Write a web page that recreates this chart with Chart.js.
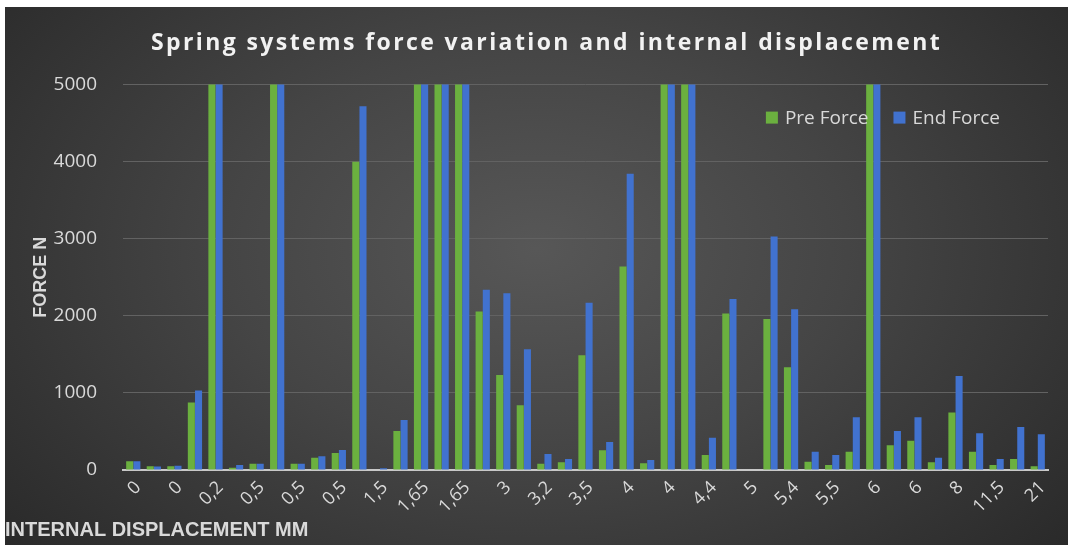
<!DOCTYPE html>
<html><head><meta charset="utf-8">
<script src="https://cdn.jsdelivr.net/npm/chart.js@4.4.1/dist/chart.umd.min.js"></script>
<style>
html,body{margin:0;padding:0;background:#fff;width:1078px;height:545px;overflow:hidden}
#panel{position:absolute;left:5px;top:7px;width:1063px;height:538px;
background:radial-gradient(ellipse 65% 85% at 50% 45%, #575757 0%, #454545 45%, #2a2a2a 100%);}
</style></head><body>
<div id="panel"><canvas id="c"></canvas></div>
<script>
const categories = ["0","0","0","0,1","0,2","0,3","0,5","0,5","0,5","0,5","0,5","1","1,5","1,5","1,65","1,65","1,65","2,5","3","3","3,2","3,5","3,5","3,5","4","4","4","4","4,4","4,5","5","5","5,4","5,5","5,5","6","6","6","6","7","8","10","11,5","15","21"];
const preForce = [115,50,50,875,6500,30,80,5800,80,160,222,4000,5,506,9000,9500,10000,2056,1234,840,82,100,1490,255,2640,87,7000,7500,195,2030,0,1960,1333,108,65,238,15000,320,381,100,745,238,65,143,48];
const endForce = [115,45,55,1030,7800,65,80,6900,80,178,258,4718,22,650,11000,11500,12000,2338,2294,1567,208,143,2170,364,3844,130,8500,9000,420,2218,0,3030,2087,238,195,684,18000,506,684,160,1221,476,143,558,463];
const seriesNames = ["Pre Force","End Force"];
const seriesColors = ['#6bb03f', '#4172cf'];
const yMin = 0, yMax = 5000, yStep = 1000;

const txt = '#d9d9d9';

const titleSpacing = {
  id: 'titleSpacing',
  afterInit(chart) {
    const tb = chart.titleBlock;
    if (tb) {
      const orig = tb.draw.bind(tb);
      tb.draw = function(a){ const ctx = chart.ctx; ctx.save(); ctx.letterSpacing = '2.4px'; ctx.translate(20, 0); orig(a); ctx.restore(); };
    }
  }
};

// legend drawn inside the plot area, top-right, from the dataset labels/colours
const insideLegend = {
  id: 'insideLegend',
  afterDraw(chart) {
    const ctx = chart.ctx, area = chart.chartArea;
    ctx.save();
    ctx.font = '19px "Open Sans"';
    const box = 12, gap = 7, itemGap = 25;
    const items = chart.data.datasets.map(d => ({label: d.label, color: d.backgroundColor, w: ctx.measureText(d.label).width}));
    const total = items.reduce((s, it) => s + box + gap + it.w, 0) + itemGap * (items.length - 1);
    let x = area.right - 48 - total;
    const cy = area.top + 33;
    ctx.textBaseline = 'middle';
    ctx.textAlign = 'left';
    items.forEach(it => {
      ctx.fillStyle = it.color;
      ctx.fillRect(x, cy - box / 2, box, box);
      x += box + gap;
      ctx.fillStyle = txt;
      ctx.fillText(it.label, x, cy + 1);
      x += it.w + itemGap;
    });
    ctx.restore();
  }
};

new Chart(document.getElementById('c'), {
  type: 'bar',
  data: {
    labels: categories,
    datasets: [
      {label: seriesNames[0], data: preForce, backgroundColor: seriesColors[0], borderWidth: 0},
      {label: seriesNames[1], data: endForce, backgroundColor: seriesColors[1], borderWidth: 0}
    ]
  },
  plugins: [titleSpacing, insideLegend],
  options: {
    responsive: true, maintainAspectRatio: false, animation: false,
    layout: {padding: {left: 0, right: 20, top: 0, bottom: 0}},
    datasets: {bar: {categoryPercentage: 0.7, barPercentage: 0.98}},
    plugins: {
      title: {display: true, text: 'Spring systems force variation and internal displacement',
        color: '#f2f2f2', font: {family: 'Open Sans', size: 23, weight: 'bold'}, padding: {top: 23, bottom: 27}},
      subtitle: {display: true, position: 'bottom', align: 'start', text: 'INTERNAL DISPLACEMENT MM',
        color: txt, font: {family: 'Liberation Sans', size: 20, weight: 'bold'}, padding: {top: 0, bottom: 3}},
      legend: {display: false},
      tooltip: {enabled: false}
    },
    scales: {
      x: {
        grid: {display: false, drawTicks: false},
        border: {display: true, color: '#c8c8c8', width: 2},
        ticks: {color: txt, autoSkip: false, minRotation: 45, maxRotation: 45, padding: 7, labelOffset: 5,
          font: {family: 'Open Sans', size: 18},
          callback: function(v, i){ return i % 2 === 0 ? this.getLabelForValue(v) : ''; }},
        afterFit(s){ s.height = 48; }
      },
      y: {
        min: yMin, max: yMax,
        grid: {color: '#626262', lineWidth: 1, drawTicks: false},
        border: {display: false},
        ticks: {stepSize: yStep, color: txt, padding: 26, font: {family: 'Open Sans', size: 19},
          callback: v => String(v)},
        title: {display: true, text: 'FORCE N', color: txt, font: {family: 'Liberation Sans', size: 18, weight: 'bold'},
          padding: {top: 25, bottom: 0}},
        afterFit(s){ s.width = 118; }
      }
    }
  }
});
</script>
</body></html>
